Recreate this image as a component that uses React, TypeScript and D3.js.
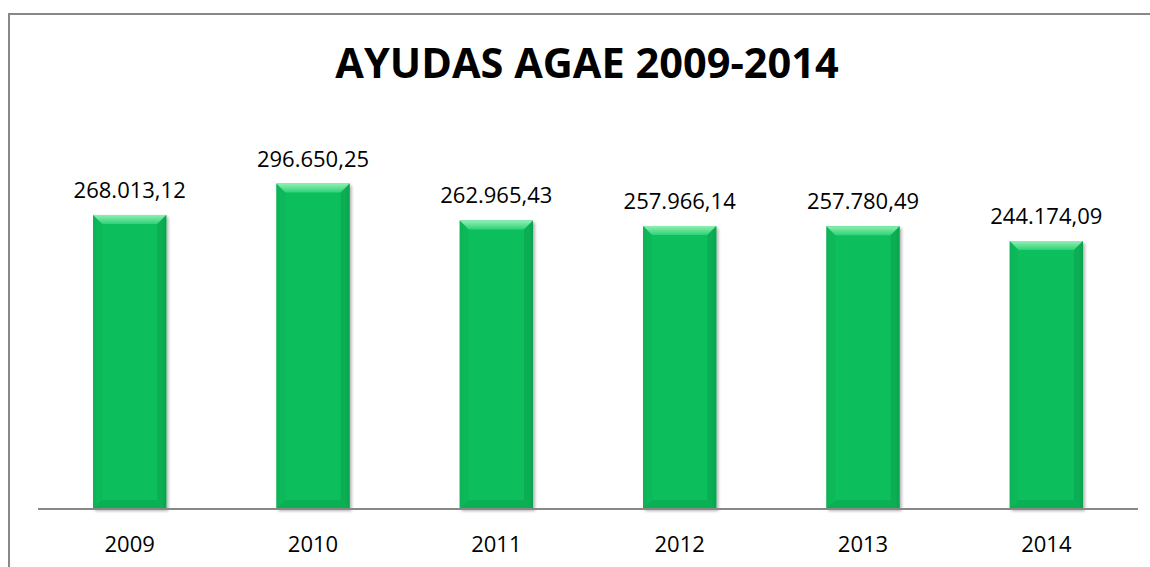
import * as React from "react";
import * as d3 from "d3";

const years = ["2009", "2010", "2011", "2012", "2013", "2014"];
const amounts = [268013.12, 296650.25, 262965.43, 257966.14, 257780.49, 244174.09];
const amountLabels = ["268.013,12", "296.650,25", "262.965,43", "257.966,14", "257.780,49", "244.174,09"];

const W = 1150;
const H = 567;
const font = "'Open Sans', 'Noto Sans', sans-serif";

export default function App() {
  const left = 38;
  const right = 1138;
  const baseY = 509;

  const x = React.useMemo(
    () => d3.scaleBand().domain(years).range([left, right]).paddingInner(0.6).paddingOuter(0.3),
    []
  );
  const y = React.useMemo(
    () => d3.scaleLinear().domain([0, 350000]).range([baseY, baseY - 384]),
    []
  );

  const bw = x.bandwidth();
  const bev = 9;

  return (
    <svg width={W} height={H} style={{ position: "absolute", left: 0, top: 0 }}>
      <defs>
        <linearGradient id="face" x1="0" y1="0" x2="1" y2="0">
          <stop offset="0" stopColor="#0fb457" />
          <stop offset="0.06" stopColor="#10bf5c" />
          <stop offset="0.94" stopColor="#10bf5c" />
          <stop offset="1" stopColor="#0ca850" />
        </linearGradient>
        <linearGradient id="topbev" x1="0" y1="0" x2="0" y2="1">
          <stop offset="0" stopColor="#8ff0b4" />
          <stop offset="1" stopColor="#2fd276" />
        </linearGradient>
        <filter id="shadow" x="-10%" y="-10%" width="130%" height="130%">
          <feGaussianBlur in="SourceAlpha" stdDeviation="1.5" />
          <feOffset dx="2" dy="2" result="b" />
          <feComponentTransfer><feFuncA type="linear" slope="0.3" /></feComponentTransfer>
          <feMerge><feMergeNode /><feMergeNode in="SourceGraphic" /></feMerge>
        </filter>
      </defs>
      <rect x={0} y={0} width={W} height={H} fill="#fff" />
      {/* chart frame */}
      <line x1={9} y1={14} x2={W} y2={14} stroke="#888" strokeWidth={2} />
      <line x1={9} y1={13} x2={9} y2={H} stroke="#888" strokeWidth={2} />

      <text x={587} y={78} textAnchor="middle" fontFamily={font} fontWeight="bold" fontSize={41.5} fill="#000">
        AYUDAS AGAE 2009-2014
      </text>

      {years.map((yr, i) => {
        const x0 = x(yr)!;
        const top = y(amounts[i]);
        const h = baseY - top;
        return (
          <g key={yr}>
            <g filter="url(#shadow)">
              <rect x={x0} y={top} width={bw} height={h} fill="url(#face)" />
            </g>
            <polygon
              points={`${x0},${top} ${x0 + bw},${top} ${x0 + bw - bev},${top + bev} ${x0 + bev},${top + bev}`}
              fill="url(#topbev)"
            />
            <polygon
              points={`${x0},${top} ${x0 + bev},${top + bev} ${x0 + bev},${baseY - bev} ${x0},${baseY}`}
              fill="#0db055"
              opacity={0.4}
            />
            <polygon
              points={`${x0 + bw},${top} ${x0 + bw - bev},${top + bev} ${x0 + bw - bev},${baseY - bev} ${x0 + bw},${baseY}`}
              fill="#0a9e4b"
              opacity={0.5}
            />
            <polygon
              points={`${x0},${baseY} ${x0 + bev},${baseY - bev} ${x0 + bw - bev},${baseY - bev} ${x0 + bw},${baseY}`}
              fill="#0aa54e"
              opacity={0.6}
            />
            <text x={x0 + bw / 2} y={top - 17} textAnchor="middle" fontFamily={font} fontSize={22} fill="#000">
              {amountLabels[i]}
            </text>
            <text x={x0 + bw / 2} y={552} textAnchor="middle" fontFamily={font} fontSize={22} fill="#000">
              {yr}
            </text>
          </g>
        );
      })}

      <line x1={left} y1={baseY} x2={right} y2={baseY} stroke="#888" strokeWidth={2} />
    </svg>
  );
}
